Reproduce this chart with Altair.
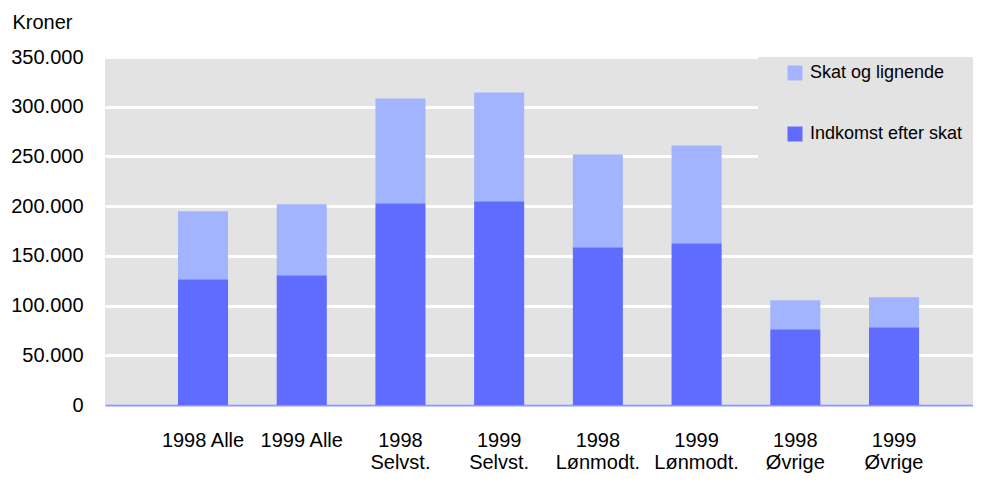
import altair as alt
import pandas as pd

categories = ["1998 Alle", "1999 Alle", "1998\nSelvst.", "1999\nSelvst.",
              "1998\nLønmodt.", "1999\nLønmodt.", "1998\nØvrige", "1999\nØvrige"]
indkomst = [126500, 130500, 202800, 204800, 158600, 162700, 76300, 78300]
skat = [68300, 71300, 105400, 109500, 93400, 98300, 29100, 30100]
series = ["Skat og lignende", "Indkomst efter skat"]
colors = ["#a3b4ff", "#606cff"]
y_ticks = [0, 50000, 100000, 150000, 200000, 250000, 300000, 350000]

rows = []
for c, i, s in zip(categories, indkomst, skat):
    rows.append({"kat": c, "serie": "Indkomst efter skat", "v": i, "o": 0})
    rows.append({"kat": c, "serie": "Skat og lignende", "v": s, "o": 1})
df = pd.DataFrame(rows)

FONT = "Liberation Sans"
W, H = 868, 348

box = alt.Chart(alt.Data(values=[{}])).mark_rect(color="#e3e3e3").encode(
    x=alt.value(653), x2=alt.value(W), y=alt.value(0), y2=alt.value(128)
)

bars = alt.Chart(df).mark_bar().encode(
    x=alt.X("kat:N", sort=categories,
            scale=alt.Scale(paddingInner=0.493, paddingOuter=0.643, align=0.575),
            axis=alt.Axis(title=None, labelAngle=0, ticks=False,
                          domainColor="#8c96ff", domainWidth=2,
                          labelFontSize=20, labelPadding=25, labelLineHeight=22,
                          labelColor="#000000", labelFont=FONT,
                          labelExpr="split(datum.label, '\\n')", grid=False)),
    y=alt.Y("v:Q", stack="zero",
            scale=alt.Scale(domain=[0, 350000], nice=False),
            axis=alt.Axis(title="Kroner", titleAngle=0, titleX=-93, titleY=-29,
                          titleAlign="left", titleBaseline="alphabetic",
                          titleFontSize=20, titleFontWeight="normal", titleFont=FONT,
                          titleColor="#000000",
                          values=y_ticks, format=",d",
                          labelExpr="replace(datum.label, ',', '.')",
                          labelFontSize=20, labelFont=FONT, labelColor="#000000",
                          labelPadding=22, ticks=False, domain=False,
                          grid=True, gridColor="#ffffff", gridWidth=3)),
    color=alt.Color("serie:N", scale=alt.Scale(domain=series, range=colors),
                    legend=alt.Legend(title=None, orient="none", legendX=681, legendY=7,
                                      padding=0, symbolType="square", symbolSize=225,
                                      symbolStrokeWidth=0, labelFontSize=18,
                                      labelFont=FONT, labelColor="#000000",
                                      labelOffset=6, rowPadding=43)),
    order=alt.Order("o:Q"),
)

chart = alt.layer(box, bars).properties(
    width=W, height=H,
    autosize=alt.AutoSizeParams(type="none"),
    padding={"left": 97, "top": 49, "right": 0, "bottom": 70},
).configure_view(fill="#e3e3e3", stroke=None)

chart.save("out.html", embed_options={"renderer": "svg", "actions": False})
